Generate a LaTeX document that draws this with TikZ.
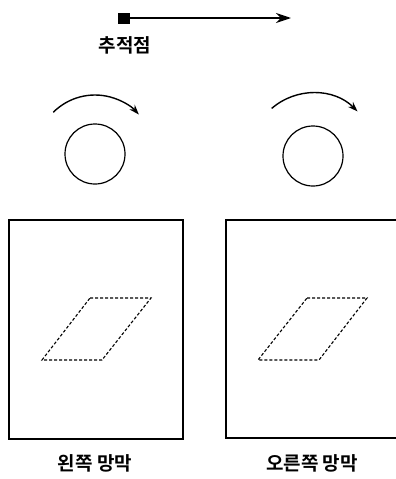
\documentclass[tikz,border=0pt]{standalone}
\usepackage{fontspec}
\newfontfamily\kfont{Noto Sans CJK KR Bold}
\usepackage{tikz}
\usetikzlibrary{arrows.meta}

\begin{document}
\begin{tikzpicture}[x=1pt,y=-1pt,
  eye/.style={draw,circle,line width=1.2pt,minimum size=60pt,inner sep=0pt},
  turn/.style={line width=1.4pt,-{Stealth[length=10pt,width=7pt]}},
  retina/.style={draw,line width=1.2pt},
  image/.style={line width=1.1pt,dash pattern=on 3pt off 2pt},
  caption/.style={font=\kfont\fontsize{19}{19}\selectfont,inner sep=0pt}]
  \useasboundingbox (0,0) rectangle (396,479);
  % tracking point
  \coordinate (P) at (124,18); \coordinate (Q) at (291,18);
  \draw[line width=1.5pt,-{Stealth[length=15pt,width=10pt]}] (P) -- (Q);
  \fill (P) ++(-6,-5.5) rectangle ++(12,11);
  \node[caption] (track) at (125,45) {추적점};
  % eyes
  \node[eye] (leye) at (95,154) {};
  \node[eye] (reye) at (313,156) {};
  \draw[turn] (leye.center) ++(-135:59) arc[start angle=-135,end angle=-42,radius=59];
  \draw[turn] (reye.center) ++(-131:63) arc[start angle=-131,end angle=-45,radius=63];
  % retinas
  \draw[retina] (9,220) rectangle (183,439);
  \draw[retina] (226,220) rectangle (400,438);
  \draw[image] (90,298) -- (151,298) -- (102,360) -- (42,360) -- cycle;
  \draw[image] (307,298) -- (367,298) -- (319,360) -- (258,360) -- cycle;
  \node[caption] (lret) at (95,463) {왼쪽 망막};
  \node[caption] (rret) at (312,463) {오른쪽 망막};
\end{tikzpicture}
\end{document}
